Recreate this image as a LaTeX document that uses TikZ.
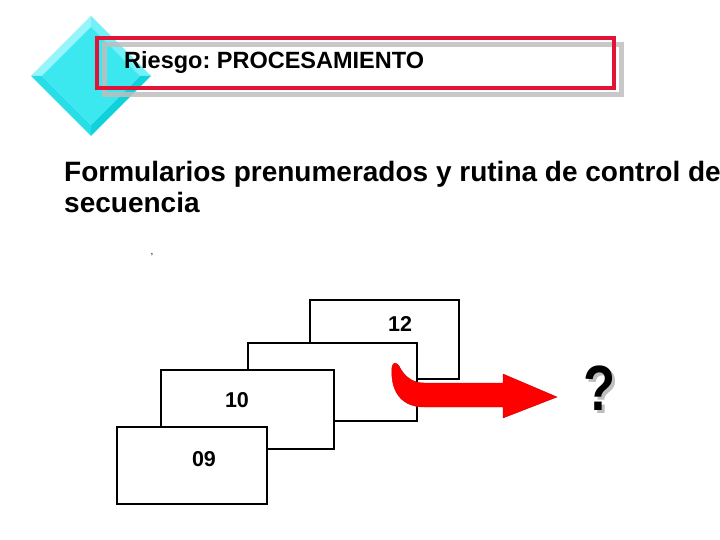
\documentclass[tikz,border=0pt]{standalone}
\usepackage{fontspec}
\setmainfont{Liberation Sans}
\frenchspacing
\definecolor{dcenter}{RGB}{60,232,240}
\definecolor{dtl}{RGB}{150,245,250}
\definecolor{dtr}{RGB}{115,240,248}
\definecolor{dbl}{RGB}{40,222,230}
\definecolor{dbr}{RGB}{15,210,220}
\definecolor{titlered}{RGB}{225,20,55}
\definecolor{shadowgray}{RGB}{190,190,190}
\definecolor{arrowred}{RGB}{255,0,0}
\tikzset{
  card/.style={draw=black, line width=2.4pt, fill=white, inner sep=0pt},
  cardnum/.style={font=\fontsize{21.5}{21.5}\selectfont\bfseries, inner sep=0pt},
  heading/.style={font=\fontsize{28}{32}\selectfont\bfseries, align=left, inner sep=0pt, anchor=base west},
}
\begin{document}
\begin{tikzpicture}[x=1pt,y=-1pt]
\useasboundingbox (0,0) rectangle (720,540);
% diamond
\coordinate (dT) at (91,16);
\coordinate (dR) at (151,76);
\coordinate (dB) at (91,136);
\coordinate (dL) at (31,76);
\coordinate (iT) at (91,27);
\coordinate (iR) at (140,76);
\coordinate (iB) at (91,125);
\coordinate (iL) at (42,76);
\fill[dtl] (dL) -- (dT) -- (iT) -- (iL) -- cycle;
\fill[dtr] (dT) -- (dR) -- (iR) -- (iT) -- cycle;
\fill[dbr] (dR) -- (dB) -- (iB) -- (iR) -- cycle;
\fill[dbl] (dB) -- (dL) -- (iL) -- (iB) -- cycle;
\fill[dcenter] (iT) -- (iR) -- (iB) -- (iL) -- cycle;
% title box
\draw[shadowgray, line width=5pt, opacity=0.85] (104,45) rectangle (621,95);
\draw[titlered, line width=4pt] (97,38) rectangle (614,88);
\node[anchor=base west, inner sep=0pt, font=\fontsize{23.5}{24}\selectfont\bfseries] (title) at (124,69) {Riesgo: PROCESAMIENTO};
% heading
\node[heading] (head) at (64,213) {Formularios prenumerados y rutina de control de\\secuencia};
\node[inner sep=0pt, font=\fontsize{10}{10}\selectfont] (tick) at (152,255) {,};
% cards
\node[card, minimum width=149pt, minimum height=79pt] (c12) at (384.5,339.5) {};
\node[cardnum] (n12) at (400,324) {12};
\node[card, minimum width=169pt, minimum height=78pt] (c11) at (332.5,382) {};
\node[card, minimum width=173pt, minimum height=79pt] (c10) at (247.5,409.5) {};
\node[cardnum] (n10) at (237,400) {10};
\node[card, minimum width=150pt, minimum height=77pt] (c09) at (192,465.5) {};
\node[cardnum] (n09) at (204,459.5) {09};
% red block arrow
\fill[arrowred, draw=arrowred!80!black, line width=0.4pt]
  (392,367) .. controls (393,362) and (396,362) .. (399,366)
  .. controls (404,376) and (412,383) .. (424,383)
  -- (503,383) -- (503,374) -- (557,397) -- (503,418) -- (503,407)
  -- (424,407) .. controls (402,407) and (390,392) .. (392,367) -- cycle;
% question mark with its shadow
\node[inner sep=0pt, font=\fontsize{64}{64}\selectfont\bfseries] (q) at (600,390)
  {\makebox[0pt][l]{\hspace{3pt}\raisebox{-3pt}{\textcolor{shadowgray}{\scalebox{0.82}[1]{?}}}}\scalebox{0.82}[1]{?}};
\end{tikzpicture}
\end{document}
